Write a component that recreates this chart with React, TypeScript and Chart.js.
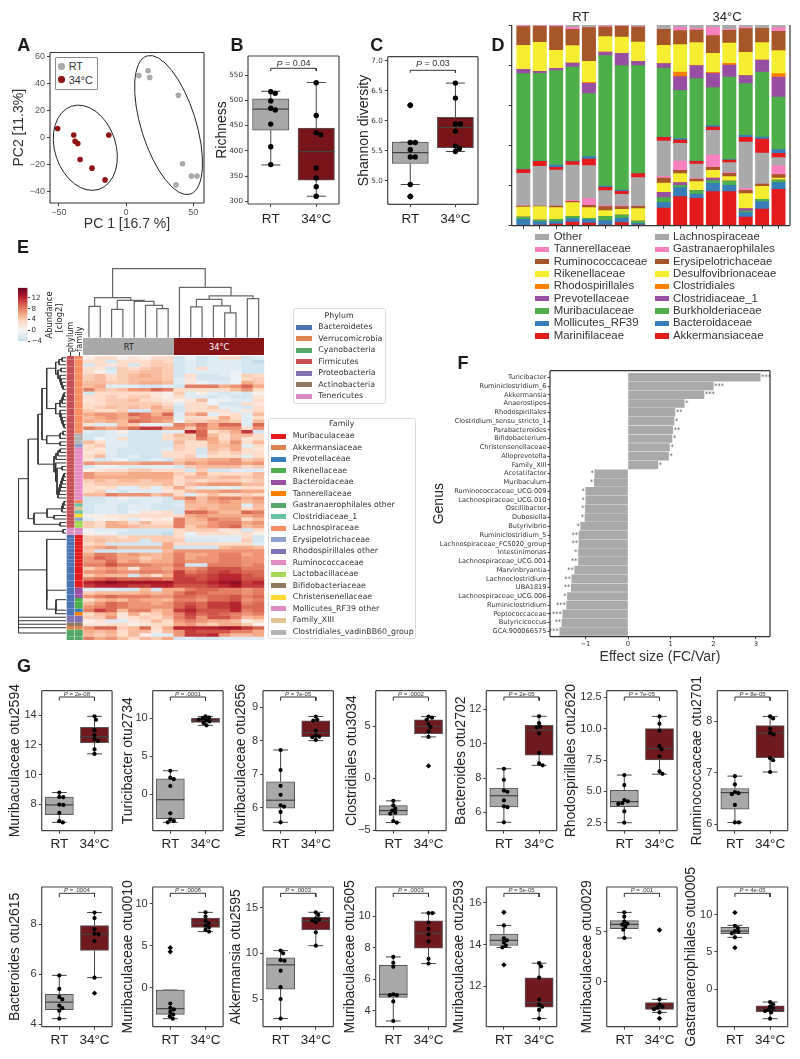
import React, { useEffect, useRef } from 'react';
import { Chart, registerables } from 'chart.js';
Chart.register(...registerables);

const SANS = '"Liberation Sans", Arial, sans-serif';
const DEJA = '"DejaVu Sans", sans-serif';
const GREY = '#a9a9a9';
const MAROON = '#771518';

// ---------- Panel A ----------
const pcaRT = [[9.5, 46], [16.4, 49.5], [17.6, 44.5], [38.9, 31.3], [42, -19.4], [48.6, -28.5], [52.8, -28.5], [37.2, -35]];
const pcaHot = [[-51, 6.8], [-39, 1.9], [-38, -2.8], [-36, -4.4], [-12.9, 1.9], [-34.3, -16.2], [-25.4, -22.6], [-15.7, -31.3]];
const pcaEllipses = [
  { cx: 31.6, cy: 9.3, rx: 20.4, ry: 53.6, rot: -17.4 },
  { cx: -30.4, cy: -7.5, rx: 22.7, ry: 32.4, rot: -18.4 },
];

// ---------- Panels B, C ----------
const richRTBox = [372, 441, 482.5, 503, 518];
const richHotBox = [310, 342, 398.5, 445, 535.5];
const richRTPts = [517, 514, 499, 484.5, 481, 453, 408, 372.7];
const richHotPts = [535, 470, 436, 432, 366, 346, 329, 310];
const shanRTBox = [4.94, 5.29, 5.47, 5.645, 5.645];
const shanHotBox = [5.49, 5.555, 5.89, 6.06, 6.63];
const shanRTPts = [5.64, 5.64, 5.52, 5.4, 5.4, 4.94, 6.26, 4.74];
const shanHotPts = [6.63, 6.38, 5.95, 5.95, 5.83, 5.58, 5.54, 5.49];
const shanRTFliers = [6.26, 4.74];

// ---------- Panel D ----------
const sampleX = [0, 1, 2, 3, 4, 5, 6, 7, 8.56, 9.56, 10.56, 11.56, 12.56, 13.56, 14.56, 15.56];
const familiesD = ['Akkermansiaceae', 'Bacteroidaceae', 'Burkholderiaceae', 'Clostridiaceae_1', 'Clostridiales', 'Desulfovibrionaceae', 'Erysipelotrichaceae', 'Gastranaerophilales', 'Lachnospiraceae', 'Marinifilaceae', 'Mollicutes_RF39', 'Muribaculaceae', 'Prevotellaceae', 'Rhodospirillales', 'Rikenellaceae', 'Ruminococcaceae', 'Tannerellaceae', 'Other'];
const colorsD = ['#e41a1c', '#377eb8', '#4daf4a', '#984ea3', '#ff7f00', '#f5ed2f', '#a65628', '#f781bf', '#a9a9a9', '#e41a1c', '#377eb8', '#4daf4a', '#984ea3', '#ff7f00', '#f5ed2f', '#a65628', '#f781bf', '#a9a9a9'];
const abundance = [
  [0, 2, 5, 11, 8, 2, 9, 1, 53, 87, 82, 102, 102, 26, 50, 109],
  [19, 10, 7, 10, 10, 13, 14, 6, 17, 27, 13, 26, 19, 13, 22, 20],
  [7, 5, 7, 7, 4, 13, 9, 7, 14, 7, 10, 7, 13, 5, 7, 8],
  [0, 0, 0, 0, 0, 0, 0, 0, 16, 8, 0, 8, 0, 7, 0, 0],
  [0, 0, 0, 0, 0, 0, 0, 0, 0, 0, 0, 0, 0, 0, 0, 0],
  [30, 40, 35, 41, 32, 17, 17, 37, 28, 27, 27, 23, 13, 45, 39, 6],
  [3, 2, 5, 4, 7, 12, 8, 7, 15, 10, 8, 9, 10, 10, 7, 10],
  [1, 0, 0, 3, 21, 3, 3, 1, 5, 28, 2, 37, 3, 6, 0, 27],
  [97, 119, 108, 106, 98, 45, 34, 85, 106, 53, 43, 74, 29, 139, 93, 24],
  [11, 15, 8, 10, 20, 10, 9, 12, 11, 10, 8, 10, 8, 14, 42, 13],
  [2, 1, 7, 2, 7, 4, 4, 1, 1, 4, 1, 4, 1, 6, 6, 11],
  [286, 263, 283, 282, 189, 391, 373, 323, 207, 145, 247, 114, 248, 155, 195, 158],
  [13, 6, 7, 12, 31, 11, 37, 13, 13, 41, 39, 43, 36, 24, 36, 60],
  [0, 0, 0, 0, 3, 0, 0, 0, 0, 14, 0, 3, 5, 0, 0, 10],
  [72, 87, 54, 52, 63, 46, 49, 58, 55, 82, 69, 57, 61, 70, 52, 69],
  [56, 48, 71, 49, 101, 29, 32, 45, 48, 42, 38, 53, 38, 71, 43, 58],
  [3, 2, 3, 6, 1, 3, 2, 1, 0, 10, 5, 25, 3, 4, 0, 11],
  [2, 2, 2, 7, 7, 3, 2, 5, 13, 7, 10, 7, 13, 7, 10, 8],
];
const legendDLeft = ['Other', 'Tannerellaceae', 'Ruminococcaceae', 'Rikenellaceae', 'Rhodospirillales', 'Prevotellaceae', 'Muribaculaceae', 'Mollicutes_RF39', 'Marinifilaceae'];
const legendDRight = ['Lachnospiraceae', 'Gastranaerophilales', 'Erysipelotrichaceae', 'Desulfovibrionaceae', 'Clostridiales', 'Clostridiaceae_1', 'Burkholderiaceae', 'Bacteroidaceae', 'Akkermansiaceae'];
const legendDColors = ['#a9a9a9', '#f781bf', '#a65628', '#f5ed2f', '#ff7f00', '#984ea3', '#4daf4a', '#377eb8', '#e41a1c'];

// ---------- Panel E ----------
const heatRows = [
  [1,3,3,1,2,1,3,3,-3,-1,-3,-2,3,3,-3,-2],
  [3,3,-3,3,3,3,4,3,-3,-2,-3,-2,-2,-2,-3,-4],
  [-3,3,2,3,-3,3,4,4,-3,-2,-3,-2,-2,-2,-3,-3],
  [3,2,-3,4,3,4,5,4,-3,-2,3,-2,-2,-2,-3,-3],
  [3,1,-2,4,4,5,5,4,-3,-2,-2,-2,-2,-1,-3,-3],
  [4,5,3,4,5,6,5,4,-3,3,-3,-3,-2,-1,4,3],
  [4,5,3,4,5,5,5,4,-2,2,-3,-3,-3,-1,3,4],
  [5,5,4,4,5,6,6,5,-2,2,-1,-2,-2,-1,6,4],
  [5,6,-2,-2,-2,-3,-3,-2,-3,8,8,8,6,7,9,6],
  [8,5,4,5,7,7,9,8,3,3,3,3,3,5,7,3],
  [-3,3,3,3,3,3,2,1,4,-2,1,-2,-3,-2,-3,1],
  [3,3,4,3,4,4,2,1,3,-2,-2,-3,-2,-3,-3,2],
  [2,3,4,4,5,3,3,2,1,2,5,-1,-1,-2,-2,3],
  [3,3,4,4,4,4,4,3,-2,3,3,-1,-3,-3,3,2],
  [3,4,5,4,5,4,6,4,-3,3,3,4,-2,-2,-3,3],
  [4,3,3,4,-3,-3,5,5,-3,3,3,3,3,-2,2,3],
  [6,7,7,6,9,8,6,9,-2,5,7,-2,2,3,-2,5],
  [5,6,7,6,7,8,7,7,-2,3,3,2,6,3,-2,3],
  [6,5,6,5,9,8,7,6,-1,4,4,5,5,4,-2,5],
  [2,-2,-2,5,4,-1,-1,-2,8,7,9,6,9,9,-2,9],
  [8,7,6,7,9,11,11,7,7,4,8,6,7,7,3,7],
  [-2,-3,-2,1,-3,-3,-3,-2,-2,12,9,3,4,6,11,-3],
  [-3,-3,-2,-2,-3,-3,-3,3,5,4,9,5,3,5,5,3],
  [-3,-1,-2,3,-3,-3,-3,3,4,4,8,6,3,5,2,3],
  [5,3,-2,-2,-3,-3,-3,-3,5,3,3,6,4,7,3,5],
  [3,4,-2,-2,-3,-3,-3,-3,4,3,3,5,5,6,-2,3],
  [3,2,-2,-3,-3,-3,-3,-2,4,3,-3,5,4,6,3,2],
  [2,3,-2,-3,-3,-3,-3,3,3,3,-3,4,3,4,3,3],
  [3,5,-2,-3,-2,-3,-3,3,3,4,-2,3,3,3,-2,3],
  [2,-3,-2,-1,-3,-3,-2,-3,4,5,5,6,6,7,4,5],
  [7,6,6,6,6,7,7,7,5,7,6,7,7,7,6,7],
  [-3,-1,-1,-2,-2,-2,-2,-2,-3,4,5,5,5,5,3,4],
  [1,2,3,3,4,4,3,3,3,-3,4,-3,-3,-2,-2,-2],
  [7,5,5,5,6,6,6,6,4,3,6,3,3,3,3,5],
  [7,6,6,6,6,6,6,6,3,5,5,4,5,5,4,5],
  [4,5,4,5,5,4,5,5,3,4,3,4,4,4,3,4],
  [3,4,4,4,4,4,4,5,3,5,6,7,7,7,5,5],
  [3,2,3,-2,-2,3,-2,3,6,3,-2,-2,-1,-2,3,3],
  [3,4,-2,-3,-2,-2,-2,2,3,5,6,6,7,7,6,6],
  [5,5,8,7,7,7,5,6,3,-2,3,5,3,3,4,3],
  [-3,-3,-2,-1,-2,-2,-2,-3,6,8,5,7,8,8,6,7],
  [-3,-3,-2,-2,-3,-2,-2,-3,-3,6,5,6,7,6,5,6],
  [-3,-2,-2,-3,-2,-2,-3,-3,-2,5,5,5,6,6,-2,5],
  [-3,-2,-2,-3,-2,-2,-3,-3,-3,5,6,5,6,6,3,5],
  [-3,-2,-2,-3,-1,2,2,3,-3,9,9,7,5,5,9,8],
  [1,1,2,2,3,3,3,3,3,6,7,6,6,6,6,7],
  [-2,1,1,2,-2,1,2,1,8,5,6,8,7,7,3,5],
  [4,3,6,5,3,5,3,3,8,5,5,7,8,8,6,7],
  [4,3,6,6,5,4,4,4,8,4,6,7,8,9,5,6],
  [-1,-2,-2,-2,-3,-3,-3,-3,3,4,4,4,2,3,-3,3],
  [1,-1,-1,-3,-3,-3,-3,-4,3,-1,3,3,3,2,3,1],
  [4,4,4,3,4,4,4,4,3,-2,-2,-2,-2,-2,3,-3],
  [4,5,4,4,4,-3,4,4,4,-3,-3,-3,-2,-2,4,-3],
  [3,4,-3,-3,-3,-3,-3,6,3,3,3,3,3,3,3,-2],
  [5,6,7,5,5,5,5,6,-3,-3,-3,-3,5,6,6,5],
  [4,-3,-3,-3,-3,-3,-3,5,7,7,7,7,7,7,7,7],
  [6,8,8,6,7,6,5,6,8,6,6,7,8,8,6,7],
  [7,9,8,6,6,4,5,6,8,6,7,7,8,8,7,7],
  [7,7,9,6,7,5,6,6,8,7,7,7,8,8,7,7],
  [8,8,10,8,8,8,7,7,9,-3,-3,8,8,8,7,8],
  [4,6,7,6,2,7,7,6,8,7,8,10,10,10,8,8],
  [7,7,8,7,7,8,8,7,11,8,9,10,11,10,9,9],
  [4,6,5,5,-3,5,3,6,11,10,10,11,12,12,10,9],
  [8,9,10,9,9,9,9,8,11,11,10,11,12,12,10,10],
  [12,13,14,13,13,13,13,13,11,11,11,12,13,14,11,12],
  [11,12,12,12,11,11,12,12,10,10,10,11,12,13,11,11],
  [-2,-2,-2,-3,-3,5,-3,6,6,8,9,9,8,8,7,8],
  [4,5,5,5,5,6,5,6,8,10,9,8,8,8,7,8],
  [7,8,9,8,8,8,7,7,9,9,8,9,9,10,8,9],
  [3,5,6,5,7,6,6,5,8,8,7,9,9,10,7,8],
  [5,7,9,8,7,7,6,7,9,10,9,11,11,12,8,9],
  [7,8,9,8,7,7,7,7,9,11,9,11,11,12,9,9],
  [8,11,9,5,8,8,5,6,11,12,10,10,10,12,8,9],
  [3,5,6,2,6,3,4,6,8,11,9,10,9,8,7,8],
  [4,4,7,2,3,4,3,5,8,10,7,10,10,8,5,6],
  [1,2,-2,-2,2,3,5,3,7,8,7,6,6,5,1,3],
  [2,2,3,3,1,2,3,3,6,7,5,4,6,6,4,1],
  [7,9,9,4,5,9,3,6,12,12,12,12,13,13,11,9],
  [6,5,6,3,5,5,2,5,7,11,10,10,10,8,8,6],
  [5,4,5,3,5,1,-2,-2,7,11,11,12,7,5,5,6],
  [8,6,7,5,3,5,4,6,-3,-2,-3,-3,-2,-2,-2,-2],
];
const phylumNames = ['Bacteroidetes', 'Verrucomicrobia', 'Cyanobacteria', 'Firmicutes', 'Proteobacteria', 'Actinobacteria', 'Tenericutes'];
const phylumColors = ['#4c72b0', '#dd8452', '#55a868', '#c44e52', '#8172b3', '#937860', '#da8bc3'];
const familyNames = ['Muribaculaceae', 'Akkermansiaceae', 'Prevotellaceae', 'Rikenellaceae', 'Bacteroidaceae', 'Tannerellaceae', 'Gastranaerophilales other', 'Clostridiaceae_1', 'Lachnospiraceae', 'Erysipelotrichaceae', 'Rhodospirillales other', 'Ruminococcaceae', 'Lactobacillaceae', 'Bifidobacteriaceae', 'Christensenellaceae', 'Mollicutes_RF39 other', 'Family_XIII', 'Clostridiales_vadinBB60_group'];
const familyColors = ['#e41a1c', '#dd8452', '#377eb8', '#4daf4a', '#984ea3', '#ff7f00', '#55a868', '#66c2a5', '#fc8d62', '#8da0cb', '#8172b3', '#e78ac3', '#a6d854', '#937860', '#ffd92f', '#da8bc3', '#e5c494', '#b3b3b3'];
const phylumRuns = [[3, 49], [6, 2], [0, 23], [4, 2], [5, 1], [1, 1], [2, 3]];
const familyRuns = [[8, 22], [17, 3], [9, 1], [11, 15], [8, 1], [7, 1], [16, 1], [7, 1], [14, 1], [9, 1], [12, 2], [15, 2], [0, 15], [4, 3], [3, 3], [2, 1], [5, 1], [10, 2], [13, 1], [1, 1], [6, 3]];
const annotationColumns = ['phylum', 'family'];
const topMerges = [
  [0.5, 1.5, 31.3, 0, 0], [2.5, 3.5, 28.3, 0, 0], [6.5, 7.5, 29, 0, 0], [5.5, 7, 32.3, 0, 29], [4.5, 6.25, 36.3, 0, 32.3],
  [3, 5.375, 37.3, 28.3, 36.3], [1, 4.19, 40, 31.3, 37.3], [9.5, 10.5, 30.7, 0, 0], [12.5, 13.5, 24.7, 0, 0], [11.5, 13, 31.7, 0, 24.7],
  [10, 12.25, 38.3, 30.7, 31.7], [14.5, 15.5, 39, 0, 0], [11.125, 15, 41.7, 38.3, 39], [8.5, 13.06, 50.3, 0, 41.7], [2.59, 10.78, 69, 40, 50.3],
];
const leftMerges = [
  [0.5, 1.5, 4, 0, 0], [1, 2.5, 7, 4, 0], [3.5, 4.5, 5, 0, 0], [8.5, 9.5, 3, 0, 0], [7.5, 9, 4, 0, 3], [6.5, 8.25, 5, 0, 4], [5.5, 7.4, 6, 0, 5],
  [4, 6.45, 8, 5, 6], [1.75, 5.2, 10.3, 7, 8], [10.5, 11.5, 2, 0, 0], [11, 12.5, 3, 2, 0], [11.75, 13.5, 4, 3, 0], [12.6, 14.5, 6, 4, 0],
  [19.5, 20.5, 2, 0, 0], [18.5, 20, 3, 0, 2], [17.5, 19.25, 4, 0, 3], [16.5, 18.4, 5, 0, 4], [15.5, 17.45, 6, 0, 5], [13.55, 16.5, 10.3, 6, 6],
  [3.5, 15, 19.3, 10.3, 10.3], [21.5, 22.5, 3, 0, 0], [22, 23.5, 6, 3, 0], [24.5, 25.5, 6, 0, 0], [22.75, 25, 19.3, 6, 6],
  [26.5, 27.5, 6, 0, 0], [27, 28.5, 8, 6, 0], [27.75, 29.5, 10, 8, 0], [33.5, 34.5, 2, 0, 0], [34, 35.5, 3, 2, 0], [34.75, 36.5, 4, 3, 0],
  [35.6, 37.5, 5, 4, 0], [36.55, 38.5, 6, 5, 0], [37.5, 39.5, 7, 6, 0], [38.5, 40.5, 8, 7, 0], [31.5, 32.5, 4, 0, 0], [32, 39.5, 9, 4, 8],
  [30.5, 35.75, 10.3, 0, 9], [28.6, 33.1, 12, 10, 10.3], [9.25, 23.9, 24, 19.3, 19.3], [16.6, 30.85, 28, 24, 12],
  [41.5, 42.5, 2, 0, 0], [42, 43.5, 3, 2, 0], [42.75, 44.5, 4, 3, 0], [45.5, 46.5, 12, 0, 0], [47.5, 48.5, 6, 0, 0], [43.6, 46, 19, 4, 12],
  [44.8, 48, 32, 19, 6], [23.7, 46.4, 37.7, 28, 32], [49.5, 50.5, 3, 0, 0], [35, 50, 47.7, 37.7, 3],
  [69.5, 72.5, 10, 0, 0], [71, 73.5, 10.3, 10, 0], [66.8, 72.2, 19.3, 0, 10.3], [52.3, 69.6, 19.3, 0, 19.3],
  [74.5, 75.5, 47.6, 0, 0], [76.5, 77.5, 47.5, 0, 0], [77, 79, 47.6, 47.5, 0], [75, 78, 47.65, 47.6, 47.6], [42.5, 61, 47.7, 47.7, 19.3], [51.8, 76.5, 47.7, 47.7, 47.65],
];
const colorbarTicks = [-4, 0, 4, 8, 12];

// ---------- Panel F ----------
const genera = ['Turicibacter', 'Ruminiclostridium_6', 'Akkermansia', 'Anaerostipes', 'Rhodospirillales', 'Clostridium_sensu_stricto_1', 'Parabacteroides', 'Bifidobacterium', 'Christensenellaceae', 'Alloprevotella', 'Family_XIII', 'Acetatifactor', 'Muribaculum', 'Ruminococcaceae_UCG.009', 'Lachnospiraceae_UCG.010', 'Oscillibacter', 'Dubosiella', 'Butyrivibrio', 'Ruminiclostridium_5', 'Lachnospiraceae_FCS020_group', 'Intestinimonas', 'Lachnospiraceae_UCG.001', 'Marvinbryantia', 'Lachnoclostridium', 'UBA1819', 'Lachnospiraceae_UCG.006', 'Ruminiclostridium', 'Peptococcaceae', 'Butyricicoccus', 'GCA.900066575'];
const effect = [3.1, 2.0, 1.78, 1.32, 1.1, 1.08, 1.05, 1.03, 0.97, 0.95, 0.7, -0.78, -0.79, -0.99, -0.99, -1.0, -1.01, -1.11, -1.15, -1.15, -1.16, -1.16, -1.25, -1.32, -1.33, -1.42, -1.44, -1.53, -1.55, -1.6];
const stars = ['***', '***', '***', '*', '**', '*', '**', '*', '*', '*', '*', '*', '*', '*', '*', '*', '*', '*', '**', '**', '*', '**', '**', '**', '**', '*', '***', '***', '**', '***'];

// ---------- Panel G ----------
const gLabels = ['Muribaculaceae otu2594', 'Turicibacter otu2734', 'Muribaculaceae otu2656', 'Clostridiales otu3034', 'Bacteroides otu2702', 'Rhodospirillales otu2620', 'Ruminococcaceae otu2701', 'Bacteroides otu2615', 'Muribaculaceae otu0010', 'Akkermansia otu2595', 'Muribaculaceae otu2605', 'Muribaculaceae otu2593', 'Muribaculaceae otu0029', 'Gastranaerophilales otu0005'];
const gPvals = ['= 2e-08', '= .0001', '= 7e-05', '= .0002', '= 2e-05', '= 7e-05', '= 8e-05', '= .0004', '= .0008', '= .0003', '= .0003', '= 5e-05', '= .001', '= 4e-05'];
const gRanges = [[6.22, 15.66], [-4.78, 13.64], [5.31, 9.49], [-5.03, 8.39], [4.93, 13.09], [1.86, 13.03], [5.87, 8.59], [3.91, 9.49], [-4.66, 12.03], [1.97, 17.26], [3.0, 11.85], [10.04, 16.77], [-4.5, 9.47], [-5, 13.7]];
const gTicks = [[8, 10, 12, 14], [0, 5, 10], [6, 7, 8, 9], [-5, 0, 5], [6, 8, 10, 12], [2.5, 5, 7.5, 10, 12.5], [6, 7, 8], [4, 6, 8], [0, 5, 10], [5, 10, 15], [4, 6, 8, 10], [12, 14, 16], [0, 5], [0, 5, 10]];
const gDecimals = [0, 0, 0, 0, 0, 1, 0, 0, 0, 0, 0, 0, 0, 0];
const gRTBox = [[6.78, 7.3, 7.96, 8.49, 8.79], [-3.68, -3.2, -0.7, 2.06, 3.11], [5.56, 5.98, 6.22, 6.77, 7.72], [-4.25, -3.55, -3.1, -2.62, -2.17], [5.42, 6.31, 6.97, 7.41, 8.54], [2.5, 3.78, 4.18, 5.08, 6.3], [6.03, 6.29, 6.61, 6.69, 6.93], [4.23, 4.59, 4.89, 5.2, 5.96], [-3.7, -3.19, -2.51, -0.28, -0.28], [2.86, 6.08, 8.74, 9.5, 10.3], [3.36, 4.86, 5.05, 6.88, 7.42], [13.86, 13.95, 14.2, 14.5, 14.92], [4.37, 5.3, 5.73, 6.1, 6.93], [6.96, 7.46, 7.8, 8.3, 8.57]];
const gHotBox = [[11.4, 12.16, 12.56, 13.19, 13.93], [9.08, 9.47, 9.74, 10, 10.26], [8, 8.12, 8.24, 8.59, 8.72], [3.96, 4.28, 4.97, 5.6, 5.91], [8.74, 9.33, 10.8, 11.07, 11.6], [6.37, 7.5, 8.42, 10, 10.98], [7.01, 7.29, 7.77, 7.91, 8.09], [5.87, 6.96, 7.6, 7.95, 8.47], [6.7, 7.2, 7.73, 8.33, 9], [10.84, 12.58, 13.58, 13.94, 14.49], [7, 7.98, 8.92, 9.7, 10.2], [10.43, 10.98, 11.2, 12.4, 13.1], [-3.07, -2.77, -2.5, -2.1, -1.77], [-3.93, -2.99, -2.68, -2.19, -1.7]];
const gRTPts = [[8.79, 8.5, 8.48, 7.98, 7.96, 7.43, 6.86, 6.78], [3.11, 2.2, 2.0, 1.1, -2.5, -3.3, -3.5, -3.68], [7.72, 7.12, 6.65, 6.38, 6.07, 6.03, 5.87, 5.56], [-2.17, -2.6, -2.9, -3.1, -3.3, -3.4, -4.1, -4.25], [8.54, 7.9, 7.27, 7.2, 6.7, 6.35, 6.3, 5.42], [6.3, 5.5, 4.3, 4.2, 4.05, 4.0, 3.4, 2.5], [6.93, 6.77, 6.62, 6.6, 6.58, 6.37, 6.03, 6.03], [5.96, 5.42, 5.1, 5.0, 4.75, 4.65, 4.55, 4.23], [-1.9, -2.4, -2.6, -2.9, -3.2, -3.4, -3.7], [10.3, 10.0, 9.25, 9.2, 8.1, 6.3, 5.0, 2.86], [7.42, 7.05, 6.8, 5.05, 5.0, 5.0, 4.6, 3.36], [14.92, 14.3, 14.2, 14.1, 13.95, 13.86], [6.93, 6.5, 6.0, 5.8, 5.7, 5.5, 5.2, 4.37], [8.5, 8.2, 7.8, 7.7, 7.5, 6.96]];
const gHotPts = [[13.93, 13.7, 13.0, 12.67, 12.4, 12.27, 11.7, 11.4], [10.26, 10.1, 10.0, 9.85, 9.75, 9.6, 9.4, 9.08], [8.72, 8.62, 8.6, 8.3, 8.15, 8.12, 8.1, 8.02], [5.91, 5.8, 5.6, 5.2, 4.9, 4.5, 3.96], [11.6, 11.2, 11.0, 10.95, 10.6, 9.47, 8.85, 8.74], [10.98, 10.4, 9.85, 8.6, 8.35, 7.8, 6.6, 6.4], [8.09, 8.05, 7.85, 7.77, 7.74, 7.28, 7.24, 7.01], [8.47, 8.25, 7.8, 7.62, 7.6, 7.33, 5.87], [9, 8.5, 8, 7.7, 7.4, 7.2, 6.9, 6.7], [14.49, 14.2, 13.8, 13.7, 13.6, 13.4, 12.3, 10.84], [10.2, 10.2, 9.6, 9.2, 8.85, 8.4, 7.3, 7.0], [13.1, 12.95, 12.4, 11.35, 11.1, 11.0, 10.85, 10.43], [-1.77, -2.3, -2.5, -2.6, -2.75, -3.07], [-1.7, -2.0, -2.3, -2.6, -2.75, -2.9, -3.1, -3.93]];
const gRTFliers = [[], [], [], [], [], [], [], [], [4.78, 4.3], [], [], [15.55, 13.02], [], [10.27, 5.58]];
const gHotFliers = [[], [], [], [1.18], [], [], [], [5.25], [], [], [], [], [5.17, -3.67], []];

// ---------- layout of the small boxplots ----------
const gX0 = [41.7, 152.7, 263, 375.7, 486.3, 606.7, 717.3];
const gTitleX = [15.7, 129, 241.7, 353, 462, 571.7, 697.7, 15.7, 129, 237, 350.7, 460, 588, 691.7];

const lerp = (a: number, b: number, t: number) => a + (b - a) * t;
const RDBU = [[146, 197, 222], [209, 229, 240], [247, 247, 247], [253, 219, 199], [244, 165, 130], [214, 96, 77], [178, 24, 43], [103, 0, 31]];
function heatColor(v: number) {
  const t = Math.max(0, Math.min(6.999, (v + 6.28) / 3.14));
  const i = Math.floor(t);
  const f = t - i;
  const c = [0, 1, 2].map((k) => Math.round(lerp(RDBU[i][k], RDBU[i + 1][k], f)));
  return `rgb(${c[0]},${c[1]},${c[2]})`;
}

function expandRuns(runs: number[][]) {
  const out: number[] = [];
  runs.forEach(([k, n]) => { for (let i = 0; i < n; i++) out.push(k); });
  return out;
}

function swarm(vals: number[], center: number, ppy: number, ppx: number, d: number) {
  const placed: number[][] = [];
  return vals.map((v) => {
    const y = v * ppy;
    for (let k = 0; k < 80; k++) {
      const c = (k % 2 ? 1 : -1) * Math.ceil(k / 2) * 0.5;
      if (placed.every(([px, py]) => Math.hypot(px - c, py - y) >= d)) {
        placed.push([c, y]);
        return { x: center + c / ppx, y: v };
      }
    }
    return { x: center, y: v };
  });
}

const basePlugins = { legend: { display: false }, tooltip: { enabled: false }, title: { display: false } };
const minus = (s: string) => s.replace('-', '\u2212');

const framePlugin = (color = '#444', width = 1.2, sides = 'tlbr') => ({
  id: 'frame',
  afterDatasetsDraw(chart: any) {
    const { ctx, chartArea: a } = chart;
    ctx.save();
    ctx.strokeStyle = color;
    ctx.lineWidth = width;
    ctx.beginPath();
    if (sides.includes('t')) { ctx.moveTo(a.left, a.top); ctx.lineTo(a.right, a.top); }
    if (sides.includes('b')) { ctx.moveTo(a.left, a.bottom); ctx.lineTo(a.right, a.bottom); }
    if (sides.includes('l')) { ctx.moveTo(a.left, a.top); ctx.lineTo(a.left, a.bottom); }
    if (sides.includes('r')) { ctx.moveTo(a.right, a.top); ctx.lineTo(a.right, a.bottom); }
    ctx.stroke();
    ctx.restore();
  },
});

const tickGrid = (len = 3, color = '#444') => ({ display: true, offset: false, drawOnChartArea: false, drawTicks: true, tickLength: len, tickColor: color, tickWidth: 1 });

type Geo = { left: number; top: number; width: number; height: number };
function geometry(x0: number, y0: number, x1: number, y1: number, L: number, B: number, T = 8, R = 8) {
  const left = Math.floor(x0 - L);
  const top = Math.floor(y0 - T);
  const width = Math.ceil(x1 + R) - left;
  const height = Math.ceil(y1 + B) - top;
  return { box: { left, top, width, height } as Geo, L: x0 - left, B: height - (y1 - top), T: y0 - top, R: width - (x1 - left) };
}

function ChartBox({ box, make }: { box: Geo; make: () => any }) {
  const ref = useRef<HTMLCanvasElement>(null);
  useEffect(() => {
    const chart = new Chart(ref.current as any, make());
    return () => chart.destroy();
  }, []);
  return <canvas ref={ref} width={box.width} height={box.height} style={{ position: 'absolute', left: box.left, top: box.top, width: box.width, height: box.height }} />;
}

function Txt({ x, y, children, size = 11, font = SANS, color = '#222', weight = 400, rot = 0, anchor = 'center' }: any) {
  const tx = anchor === 'center' ? '-50%' : '0';
  return (
    <div style={{ position: 'absolute', left: x, top: y, transform: `translate(${tx},-50%)${rot ? ` rotate(${rot}deg)` : ''}`, fontFamily: font, fontSize: size, color, fontWeight: weight, whiteSpace: 'nowrap', lineHeight: 1 }}>
      {children}
    </div>
  );
}

function Swatch({ x, y, w, h, color }: any) {
  return <div style={{ position: 'absolute', left: x, top: y - h / 2, width: w, height: h, background: color }} />;
}

// ---------- box + swarm panel ----------
type BoxSpec = {
  x0: number; y0: number; x1: number; y1: number; titleX: number; label: string; range: number[]; ticks: number[]; dec: number;
  rtBox: number[]; hotBox: number[]; rtPts: number[]; hotPts: number[]; rtFl: number[]; hotFl: number[]; p: string;
  tickFont: any; tickColor: string; r: number; brTop: number; brLeg: number; pFont: number; pY: number; titleSize: number; xPad: number; hot: string;
};

function boxPanel(s: BoxSpec) {
  const xLabelSize = 13.5;
  const bottomRoom = 24;
  const g = geometry(s.x0, s.y0, s.x1, s.y1, s.x0 - s.titleX + 0.6 * s.titleSize, bottomRoom, 32, 8);
  const ppy = (s.y1 - s.y0) / (s.range[1] - s.range[0]);
  const ppx = (s.x1 - s.x0) / 2;
  const whisk = (b: number[], c: number) => [
    { x: c, y: b[0] }, { x: c, y: b[1] }, { x: NaN, y: NaN }, { x: c, y: b[3] }, { x: c, y: b[4] }, { x: NaN, y: NaN },
    { x: c - 0.21, y: b[0] }, { x: c + 0.21, y: b[0] }, { x: NaN, y: NaN }, { x: c - 0.21, y: b[4] }, { x: c + 0.21, y: b[4] },
  ];
  const med = (b: number[], c: number) => [{ x: c - 0.4, y: b[2] }, { x: c + 0.4, y: b[2] }];
  const line = (data: any[], order: number, color = '#444', bw = 1) => ({ type: 'scatter', showLine: true, data, order, borderColor: color, borderWidth: bw, pointRadius: 0, spanGaps: false, clip: false });
  const yTop = s.range[1] - s.brTop / ppy;
  const yLeg = yTop - s.brLeg / ppy;
  const pText = {
    id: 'ptext',
    afterDatasetsDraw(chart: any) {
      const { ctx, chartArea: a, scales } = chart;
      const xc = (scales.x.getPixelForValue(0) + scales.x.getPixelForValue(1)) / 2;
      const y = a.top + s.pY;
      ctx.save();
      ctx.fillStyle = '#333';
      ctx.textBaseline = 'middle';
      ctx.textAlign = 'left';
      ctx.font = `italic ${s.pFont}px ${SANS}`;
      const w1 = ctx.measureText('P ').width;
      ctx.font = `${s.pFont}px ${SANS}`;
      const w2 = ctx.measureText(s.p).width;
      const start = xc - (w1 + w2) / 2;
      ctx.font = `italic ${s.pFont}px ${SANS}`;
      ctx.fillText('P', start, y);
      ctx.font = `${s.pFont}px ${SANS}`;
      ctx.fillText(s.p, start + w1, y);
      ctx.restore();
    },
  };
  const make = () => ({
    type: 'bar',
    data: {
      datasets: [
        { type: 'scatter', data: [...swarm(s.rtPts, 0, ppy, ppx, s.r * 1.7), ...swarm(s.hotPts, 1, ppy, ppx, s.r * 1.7)], pointRadius: s.r, pointBackgroundColor: '#000', pointBorderWidth: 0, order: 0, clip: false },
        { type: 'scatter', data: [...s.rtFl.map((y) => ({ x: 0, y })), ...s.hotFl.map((y) => ({ x: 1, y }))], pointStyle: 'rectRot', pointRadius: s.r + 0.6, pointBackgroundColor: '#000', pointBorderWidth: 0, order: 0, clip: false },
        line([{ x: 0, y: yLeg }, { x: 0, y: yTop }, { x: 1, y: yTop }, { x: 1, y: yLeg }], 0, '#333', 1),
        line(med(s.rtBox, 0), 1, '#444', 1.2),
        line(med(s.hotBox, 1), 1, '#444', 1.2),
        { type: 'bar', data: [{ x: 0, y: [s.rtBox[1], s.rtBox[3]] }, { x: 1, y: [s.hotBox[1], s.hotBox[3]] }], backgroundColor: [GREY, s.hot], borderColor: '#555', borderWidth: 1, borderSkipped: false, barThickness: 0.8 * ppx, order: 2 },
        line(whisk(s.rtBox, 0), 3),
        line(whisk(s.hotBox, 1), 3),
      ],
    },
    options: {
      animation: false, responsive: false, maintainAspectRatio: false, events: [],
      layout: { padding: { top: g.T, right: g.R, left: 0, bottom: 0 } },
      plugins: basePlugins,
      scales: {
        x: {
          type: 'linear', offset: false, min: -0.5, max: 1.5, afterFit: (a: any) => { a.height = g.B; },
          afterBuildTicks: (a: any) => { a.ticks = [{ value: 0 }, { value: 1 }]; },
          grid: tickGrid(), border: { display: false },
          ticks: { autoSkip: false, maxRotation: 0, padding: s.xPad, color: '#222', font: { family: SANS, size: xLabelSize }, callback: (v: number) => (v === 0 ? 'RT' : '34\u00b0C') },
        },
        y: {
          type: 'linear', min: s.range[0], max: s.range[1], afterFit: (a: any) => { a.width = g.L; },
          afterBuildTicks: (a: any) => { a.ticks = s.ticks.map((value) => ({ value })); },
          grid: tickGrid(), border: { display: false },
          ticks: { autoSkip: false, padding: 2, color: s.tickColor, font: s.tickFont, callback: (v: number) => minus(v.toFixed(s.dec)) },
          title: { display: true, text: s.label, padding: 0, color: '#222', font: { family: SANS, size: s.titleSize, lineHeight: 1.2 } },
        },
      },
    },
    plugins: [framePlugin(), pText],
  });
  return <ChartBox key={s.label} box={g.box} make={make} />;
}

// ---------- panels ----------
function PanelA() {
  const g = geometry(50, 52.5, 204, 203, 50 - 20 + 8.4, 29.5);
  const ell = {
    id: 'ellipses',
    afterDatasetsDraw(chart: any) {
      const { ctx, scales: { x, y } } = chart;
      ctx.save();
      ctx.strokeStyle = '#222';
      ctx.lineWidth = 1;
      pcaEllipses.forEach((e) => {
        ctx.beginPath();
        ctx.ellipse(x.getPixelForValue(e.cx), y.getPixelForValue(e.cy), Math.abs(x.getPixelForValue(e.rx) - x.getPixelForValue(0)), Math.abs(y.getPixelForValue(e.ry) - y.getPixelForValue(0)), (e.rot * Math.PI) / 180, 0, Math.PI * 2);
        ctx.stroke();
      });
      ctx.restore();
    },
  };
  const make = () => ({
    type: 'scatter',
    data: {
      datasets: [
        { data: pcaRT.map(([x, y]) => ({ x, y })), pointRadius: 2.8, pointBackgroundColor: GREY, pointBorderWidth: 0 },
        { data: pcaHot.map(([x, y]) => ({ x, y })), pointRadius: 2.8, pointBackgroundColor: '#8f1515', pointBorderWidth: 0 },
      ],
    },
    options: {
      animation: false, responsive: false, events: [],
      layout: { padding: { top: g.T, right: g.R, left: 0, bottom: 0 } },
      plugins: basePlugins,
      scales: {
        x: {
          type: 'linear', min: -56.7, max: 58, afterFit: (a: any) => { a.height = g.B; },
          afterBuildTicks: (a: any) => { a.ticks = [-50, 0, 50].map((value) => ({ value })); },
          grid: tickGrid(), border: { display: false },
          ticks: { autoSkip: false, padding: 1, color: '#555', font: { family: SANS, size: 9 }, callback: (v: number) => minus(String(v)) },
          title: { display: true, text: 'PC 1 [16.7 %]', padding: 0, color: '#333', font: { family: SANS, size: 14, lineHeight: 1.2 } },
        },
        y: {
          type: 'linear', min: -48.4, max: 63, afterFit: (a: any) => { a.width = g.L; },
          afterBuildTicks: (a: any) => { a.ticks = [-40, -20, 0, 20, 40, 60].map((value) => ({ value })); },
          grid: tickGrid(), border: { display: false },
          ticks: { autoSkip: false, padding: 2, color: '#555', font: { family: SANS, size: 9 }, callback: (v: number) => minus(String(v)) },
          title: { display: true, text: 'PC2 [11.3%]', padding: 0, color: '#333', font: { family: SANS, size: 14, lineHeight: 1.2 } },
        },
      },
    },
    plugins: [framePlugin('#333', 1.1), ell],
  });
  return <ChartBox box={g.box} make={make} />;
}

function PanelD() {
  const g = geometry(511.7, 25, 790, 225.7, 6, 6, 4, 4);
  const totals = sampleX.map((_, i) => abundance.reduce((s, row) => s + row[i], 0));
  const make = () => ({
    type: 'bar',
    data: {
      datasets: familiesD.map((label, k) => ({
        label,
        data: sampleX.map((x, i) => ({ x, y: (abundance[k][i] / totals[i]) * 100 })),
        backgroundColor: colorsD[k],
        borderWidth: 0,
        barThickness: 13.3,
      })),
    },
    options: {
      animation: false, responsive: false, events: [],
      layout: { padding: { top: g.T, right: g.R, left: 0, bottom: 0 } },
      plugins: basePlugins,
      scales: {
        x: {
          type: 'linear', offset: false, stacked: true, min: -0.71, max: 16.26, afterFit: (a: any) => { a.height = g.B; },
          afterBuildTicks: (a: any) => { a.ticks = sampleX.map((value) => ({ value })); },
          grid: tickGrid(3, '#333'), border: { display: false },
          ticks: { autoSkip: false, callback: () => '', padding: 0, font: { size: 1 } },
        },
        y: {
          type: 'linear', stacked: true, min: 0, max: 100, afterFit: (a: any) => { a.width = g.L; },
          grid: tickGrid(3, '#333'), border: { display: false },
          ticks: { stepSize: 20, callback: () => '', padding: 0, font: { size: 1 } },
        },
      },
    },
    plugins: [framePlugin('#333', 1.2, 'lbr')],
  });
  return <ChartBox box={g.box} make={make} />;
}

const HX0 = 83.3, HX1 = 264.3, HY0 = 356, HY1 = 640;

function Heatmap() {
  const box = { left: Math.floor(HX0), top: HY0, width: Math.ceil(HX1) - Math.floor(HX0), height: HY1 - HY0 };
  const make = () => ({
    type: 'bar',
    data: {
      labels: heatRows[0].map((_, i) => String(i)),
      datasets: heatRows.map((row, r) => ({
        data: row.map(() => [r, r + 1]),
        backgroundColor: row.map(heatColor),
        borderWidth: 0, grouped: false, barPercentage: 1, categoryPercentage: 1,
      })),
    },
    options: {
      animation: false, responsive: false, events: [],
      layout: { padding: { left: HX0 - Math.floor(HX0), right: Math.ceil(HX1) - HX1, top: 0, bottom: 0 } },
      plugins: basePlugins,
      scales: { x: { type: 'category', display: false }, y: { type: 'linear', min: 0, max: heatRows.length, reverse: true, display: false } },
    },
  });
  return <ChartBox box={box} make={make} />;
}

function RowColors() {
  const box = { left: 66, top: HY0, width: 18, height: HY1 - HY0 };
  const phyl = expandRuns(phylumRuns);
  const fam = expandRuns(familyRuns);
  const make = () => ({
    type: 'bar',
    data: {
      labels: annotationColumns,
      datasets: heatRows.map((_, r) => ({
        data: [[r, r + 1], [r, r + 1]],
        backgroundColor: [phylumColors[phyl[r]], familyColors[fam[r]]],
        borderWidth: 0, grouped: false, barPercentage: 0.94, categoryPercentage: 1,
      })),
    },
    options: {
      animation: false, responsive: false, events: [],
      layout: { padding: { top: 0, right: 1, left: 0.3, bottom: 0 } },
      plugins: basePlugins,
      scales: {
        x: { type: 'category', display: false },
        y: { type: 'linear', min: 0, max: heatRows.length, reverse: true, display: false },
      },
    },
  });
  return <ChartBox box={box} make={make} />;
}

function TopDendro() {
  const g = geometry(HX0, 266, HX1, 337.6, 0, 0, 0, 0);
  const make = () => ({
    type: 'scatter',
    data: {
      datasets: topMerges.map(([a, b, h, h1, h2]) => ({
        data: [{ x: a, y: h1 }, { x: a, y: h }, { x: b, y: h }, { x: b, y: h2 }],
        showLine: true, pointRadius: 0, borderColor: '#666', borderWidth: 1.2, clip: false,
      })),
    },
    options: {
      animation: false, responsive: false, events: [],
      layout: { padding: { left: g.L, right: g.R, top: g.T, bottom: g.B } },
      plugins: basePlugins,
      scales: { x: { type: 'linear', min: 0, max: 16, display: false }, y: { type: 'linear', min: 0, max: 71.6, display: false } },
    },
  });
  return <ChartBox box={g.box} make={make} />;
}

function LeftDendro() {
  const g = geometry(18, HY0, 66, HY1, 0, 0, 0, 0);
  const make = () => ({
    type: 'scatter',
    data: {
      datasets: leftMerges.map(([a, b, d, d1, d2]) => ({
        data: [{ x: d1, y: a }, { x: d, y: a }, { x: d, y: b }, { x: d2, y: b }],
        showLine: true, pointRadius: 0, borderColor: '#333', borderWidth: 1, clip: false,
      })),
    },
    options: {
      animation: false, responsive: false, events: [],
      layout: { padding: { left: g.L, right: g.R, top: g.T, bottom: g.B } },
      plugins: basePlugins,
      scales: { x: { type: 'linear', min: 0, max: 48, reverse: true, display: false }, y: { type: 'linear', min: 0, max: heatRows.length, reverse: true, display: false } },
    },
  });
  return <ChartBox box={g.box} make={make} />;
}

function Colorbar() {
  const g = geometry(18, 286.7, 27.5, 343, 0, 4, 4, 22);
  const make = () => ({
    type: 'bar',
    data: {
      labels: ['Abundance'],
      datasets: [{
        data: [[-4, 15.7]],
        borderWidth: 0, barPercentage: 1, categoryPercentage: 1,
        backgroundColor: (c: any) => {
          const { chart } = c;
          const y = chart.scales.y;
          if (!chart.chartArea || !y) return '#f7f7f7';
          const y0 = y.getPixelForValue(-4);
          const y1 = y.getPixelForValue(15.7);
          if (!Number.isFinite(y0) || !Number.isFinite(y1)) return '#f7f7f7';
          const grad = chart.ctx.createLinearGradient(0, y0, 0, y1);
          for (let i = 0; i <= 20; i++) grad.addColorStop(i / 20, heatColor(-4 + (19.7 * i) / 20));
          return grad;
        },
      }],
    },
    options: {
      animation: false, responsive: false, events: [],
      layout: { padding: { left: g.L, top: g.T, bottom: g.B, right: 0 } },
      plugins: basePlugins,
      scales: {
        x: { type: 'category', display: false },
        y: {
          type: 'linear', position: 'right', min: -4, max: 15.7, afterFit: (a: any) => { a.width = g.R; },
          afterBuildTicks: (a: any) => { a.ticks = colorbarTicks.map((value) => ({ value })); },
          grid: tickGrid(2.5, '#333'), border: { display: false },
          ticks: { autoSkip: false, padding: 1.5, color: '#333', font: { family: DEJA, size: 7.2 }, callback: (v: number) => minus(String(v)) },
        },
      },
    },
  });
  return <ChartBox box={g.box} make={make} />;
}

function PanelF() {
  const g = geometry(550, 370.7, 770, 636.7, 118.4, 29.1, 6, 6);
  const sig = {
    id: 'stars',
    afterDatasetsDraw(chart: any) {
      const { ctx, scales: { x, y } } = chart;
      ctx.save();
      ctx.font = `6.5px ${DEJA}`;
      ctx.fillStyle = '#444';
      ctx.textBaseline = 'middle';
      effect.forEach((v, i) => {
        ctx.textAlign = v >= 0 ? 'left' : 'right';
        ctx.fillText(stars[i], x.getPixelForValue(v) + (v >= 0 ? 1 : -1), y.getPixelForValue(i));
      });
      ctx.restore();
    },
  };
  const make = () => ({
    type: 'bar',
    data: { datasets: [{ data: effect.map((x, i) => ({ x, y: i })), backgroundColor: GREY, borderWidth: 0, barThickness: 7.8 }] },
    options: {
      indexAxis: 'y', animation: false, responsive: false, events: [],
      layout: { padding: { top: g.T, right: g.R, left: 0, bottom: 0 } },
      plugins: basePlugins,
      scales: {
        x: {
          type: 'linear', min: -1.83, max: 3.33, afterFit: (a: any) => { a.height = g.B; },
          afterBuildTicks: (a: any) => { a.ticks = [-1, 0, 1, 2, 3].map((value) => ({ value })); },
          grid: tickGrid(2.5), border: { display: false },
          ticks: { autoSkip: false, padding: 1, color: '#333', font: { family: DEJA, size: 6.8 }, callback: (v: number) => minus(String(v)) },
          title: { display: true, text: 'Effect size (FC/Var)', padding: 0, color: '#333', font: { family: SANS, size: 14, lineHeight: 1.2 } },
        },
        y: {
          type: 'linear', offset: false, min: -0.75, max: 29.6, reverse: true, afterFit: (a: any) => { a.width = g.L; },
          afterBuildTicks: (a: any) => { a.ticks = genera.map((_, value) => ({ value })); },
          grid: tickGrid(2.5), border: { display: false },
          ticks: { autoSkip: false, padding: 1, color: '#333', font: { family: DEJA, size: 6.6 }, callback: (v: number) => genera[v] },
          title: { display: true, text: 'Genus', padding: 0, color: '#222', font: { family: SANS, size: 14, lineHeight: 1.2 } },
        },
      },
    },
    plugins: [framePlugin('#333', 1.2), sig],
  });
  return <ChartBox box={g.box} make={make} />;
}

const smallTick = { family: DEJA, size: 7.2, weight: 'normal' };

export default function App() {
  const gPanels = gLabels.map((label, i) => {
    const top = i < 7;
    const col = i % 7;
    return boxPanel({
      x0: gX0[col], x1: gX0[col] + 70.4, y0: top ? 690.7 : 887, y1: top ? 830.7 : 1026.7,
      titleX: gTitleX[i], label, range: gRanges[i], ticks: gTicks[i], dec: gDecimals[i],
      rtBox: gRTBox[i], hotBox: gHotBox[i], rtPts: gRTPts[i], hotPts: gHotPts[i], rtFl: gRTFliers[i], hotFl: gHotFliers[i], p: gPvals[i],
      tickFont: { family: SANS, size: 11 }, tickColor: '#333', r: 2.1, brTop: 6.3, brLeg: 3.7, pFont: 6, pY: 3.6, titleSize: 14, xPad: 2, hot: '#701a1e',
    });
  });
  return (
    <div style={{ position: 'absolute', left: 0, top: 0, width: 800, height: 1059, background: '#fff', overflow: 'hidden', filter: 'blur(0.35px)' }}>
      <PanelA />
      {boxPanel({ x0: 248, x1: 339, y0: 56, y1: 204, titleX: 222.7, label: 'Richness', range: [294.6, 588], ticks: [300, 350, 400, 450, 500, 550], dec: 0, rtBox: richRTBox, hotBox: richHotBox, rtPts: richRTPts, hotPts: richHotPts, rtFl: [], hotFl: [], p: '= 0.04', tickFont: smallTick, tickColor: '#333', r: 2.7, brTop: 12.3, brLeg: 2.7, pFont: 9, pY: 8, titleSize: 14, xPad: 4, hot: MAROON })}
      {boxPanel({ x0: 387.7, x1: 478, y0: 56.7, y1: 204.3, titleX: 365, label: 'Shannon diversity', range: [4.61, 7.07], ticks: [5, 5.5, 6, 6.5, 7], dec: 1, rtBox: shanRTBox, hotBox: shanHotBox, rtPts: shanRTPts, hotPts: shanHotPts, rtFl: shanRTFliers, hotFl: [], p: '= 0.03', tickFont: smallTick, tickColor: '#333', r: 2.7, brTop: 13.6, brLeg: 2.4, pFont: 9, pY: 7.3, titleSize: 14, xPad: 4, hot: MAROON })}
      <PanelD />
      <Heatmap />
      <RowColors />
      <TopDendro />
      <LeftDendro />
      <Colorbar />
      <PanelF />
      {gPanels}

      {/* legend of panel A */}
      <div style={{ position: 'absolute', left: 55, top: 56.7, width: 43, height: 33.5, border: '1.2px solid #888', boxSizing: 'border-box', borderRadius: 1, background: '#fff' }} />
      <div style={{ position: 'absolute', left: 58, top: 63, width: 6.6, height: 6.6, borderRadius: '50%', background: GREY }} />
      <div style={{ position: 'absolute', left: 58, top: 76.4, width: 6.6, height: 6.6, borderRadius: '50%', background: '#8f1515' }} />
      <Txt x={68.7} y={66.3} size={10.8} anchor="left" color="#333">RT</Txt>
      <Txt x={68.7} y={79.7} size={10.8} anchor="left" color="#333">34°C</Txt>

      {/* panel letters */}
      {[['A', 23.7, 45], ['B', 237, 45], ['C', 376.7, 45], ['D', 498, 45], ['E', 23, 247], ['F', 463, 363], ['G', 24, 666]].map(([t, x, y]: any) => (
        <Txt key={t} x={x} y={y} size={18} weight={700} color="#1a1a1a">{t}</Txt>
      ))}

      {/* panel D header and legend */}
      <Txt x={580.7} y={16} size={13} color="#222">RT</Txt>
      <Txt x={727} y={16} size={13} color="#222">34°C</Txt>
      {legendDLeft.map((t, i) => (
        <React.Fragment key={t}>
          <Swatch x={535} y={237 + 12.34 * i} w={14} h={5.6} color={legendDColors[i]} />
          <Txt x={553.7} y={237 + 12.34 * i} size={11.4} anchor="left" color="#333">{t}</Txt>
          <Swatch x={654.7} y={237 + 12.34 * i} w={14} h={5.6} color={legendDColors[i]} />
          <Txt x={673} y={237 + 12.34 * i} size={11.4} anchor="left" color="#333">{legendDRight[i]}</Txt>
        </React.Fragment>
      ))}

      {/* panel E header */}
      <div style={{ position: 'absolute', left: HX0, top: 337.7, width: 90.5, height: 17.6, background: GREY }} />
      <div style={{ position: 'absolute', left: HX0 + 90.5, top: 337.7, width: 90.5, height: 17.6, background: '#871518' }} />
      <Txt x={128.7} y={346.5} size={8.2} font={DEJA} color="#222">RT</Txt>
      <Txt x={219.2} y={346.5} size={8.2} font={DEJA} color="#fff">34°C</Txt>
      <Txt x={49.3} y={315} size={8.4} font={DEJA} rot={-90} color="#222">Abundance</Txt>
      <Txt x={59.3} y={318} size={8.4} font={DEJA} rot={-90} color="#222">[clog2]</Txt>
      <Txt x={70} y={337} size={8.2} font={DEJA} rot={-90} color="#222">{annotationColumns[0]}</Txt>
      <Txt x={79.3} y={338.5} size={8.2} font={DEJA} rot={-90} color="#222">{annotationColumns[1]}</Txt>
      <Swatch x={69.7} y={353.5} w={1} h={4} color="#444" />
      <Swatch x={79} y={353.5} w={1} h={4} color="#444" />

      {/* phylum legend */}
      <div style={{ position: 'absolute', left: 293, top: 308, width: 93, height: 96, border: '1px solid #ddd', boxSizing: 'border-box', borderRadius: 2, background: '#fff' }} />
      <Txt x={339} y={315.7} size={7.85} font={DEJA} color="#333">Phylum</Txt>
      {phylumNames.map((t, i) => (
        <React.Fragment key={t}>
          <Swatch x={296} y={327.3 + 11.5 * i} w={16.3} h={5} color={phylumColors[i]} />
          <Txt x={318.3} y={327.3 + 11.5 * i} size={7.85} font={DEJA} anchor="left" color="#333">{t}</Txt>
        </React.Fragment>
      ))}

      {/* family legend */}
      <div style={{ position: 'absolute', left: 267.7, top: 417.7, width: 148.3, height: 221.6, border: '1px solid #ddd', boxSizing: 'border-box', borderRadius: 2, background: '#fff' }} />
      <Txt x={341.7} y={424.3} size={7.85} font={DEJA} color="#333">Family</Txt>
      {familyNames.map((t, i) => (
        <React.Fragment key={t}>
          <Swatch x={270.7} y={436 + 11.53 * i} w={15.3} h={5} color={familyColors[i]} />
          <Txt x={292.7} y={436 + 11.53 * i} size={7.85} font={DEJA} anchor="left" color="#333">{t}</Txt>
        </React.Fragment>
      ))}
    </div>
  );
}
